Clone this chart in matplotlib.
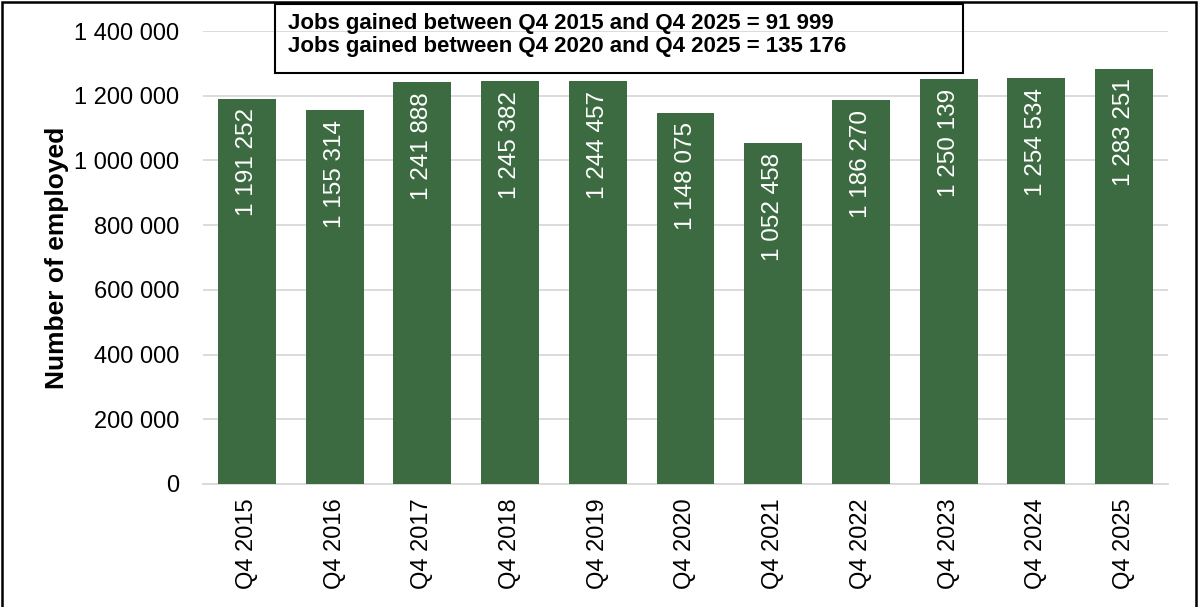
import matplotlib.pyplot as plt
from matplotlib.patches import Rectangle
from matplotlib.ticker import FuncFormatter

plt.rcParams['font.family'] = ['Liberation Sans', 'DejaVu Sans']

# Employment at Q4 of each year
quarters = ['Q4 2015', 'Q4 2016', 'Q4 2017', 'Q4 2018', 'Q4 2019', 'Q4 2020',
            'Q4 2021', 'Q4 2022', 'Q4 2023', 'Q4 2024', 'Q4 2025']
employed = [1191252, 1155314, 1241888, 1245382, 1244457, 1148075,
            1052458, 1186270, 1250139, 1254534, 1283251]
gain_2015 = 91999
gain_2020 = 135176


def spaced(v):
    return f"{int(round(v)):,}".replace(',', ' ')


fig = plt.figure(figsize=(11.98, 6.07), dpi=100)
ax = fig.add_axes([203 / 1198, 1 - 484 / 607, 965 / 1198, 453 / 607])

bar_color = '#3d6b41'
x = range(len(quarters))
ax.bar(x, employed, width=0.66, color=bar_color, zorder=3)

for xi, v in zip(x, employed):
    ax.annotate(spaced(v), xy=(xi, v), xytext=(0, -7), textcoords='offset points',
                rotation=90, ha='center', va='top', color='white', fontsize=17.5,
                zorder=4)

ax.set_xlim(-0.5, len(quarters) - 0.5)
ax.set_ylim(0, 1400000)
ax.set_yticks(range(0, 1400001, 200000))
ax.yaxis.set_major_formatter(FuncFormatter(lambda v, p: spaced(v)))
ax.set_xticks(list(x))
ax.set_xticklabels(quarters, rotation=90, fontsize=17)
ax.tick_params(axis='y', labelsize=17, length=0, pad=17)
ax.tick_params(axis='x', length=0, pad=10)

ax.grid(axis='y', color='#d9d9d9', linewidth=1.3, zorder=0)
for s in ['top', 'right', 'left']:
    ax.spines[s].set_visible(False)
ax.spines['bottom'].set_color('#d9d9d9')
ax.spines['bottom'].set_linewidth(1.3)

ax.set_ylabel('Number of employed', fontsize=19, fontweight='bold')
ax.yaxis.set_label_coords(-134 / 965, 0.5)

# Summary box
fig.text(288 / 1198, 1 - 35 / 607,
         f"Jobs gained between Q4 2015 and Q4 2025 = {spaced(gain_2015)}\n"
         f"Jobs gained between Q4 2020 and Q4 2025 = {spaced(gain_2020)}",
         fontsize=16, fontweight='bold', va='center', ha='left', linespacing=1.15)
fig.patches.append(Rectangle((275 / 1198, 1 - 73 / 607), 688 / 1198, 69 / 607,
                             transform=fig.transFigure, fill=False,
                             edgecolor='black', linewidth=1.5))

# Outer frame
fig.patches.append(Rectangle((2 / 1198, -0.01), 1194 / 1198, 1 - 2 / 607 + 0.01,
                             transform=fig.transFigure, fill=False,
                             edgecolor='black', linewidth=1.8))

fig.savefig('out.png', dpi=100)
